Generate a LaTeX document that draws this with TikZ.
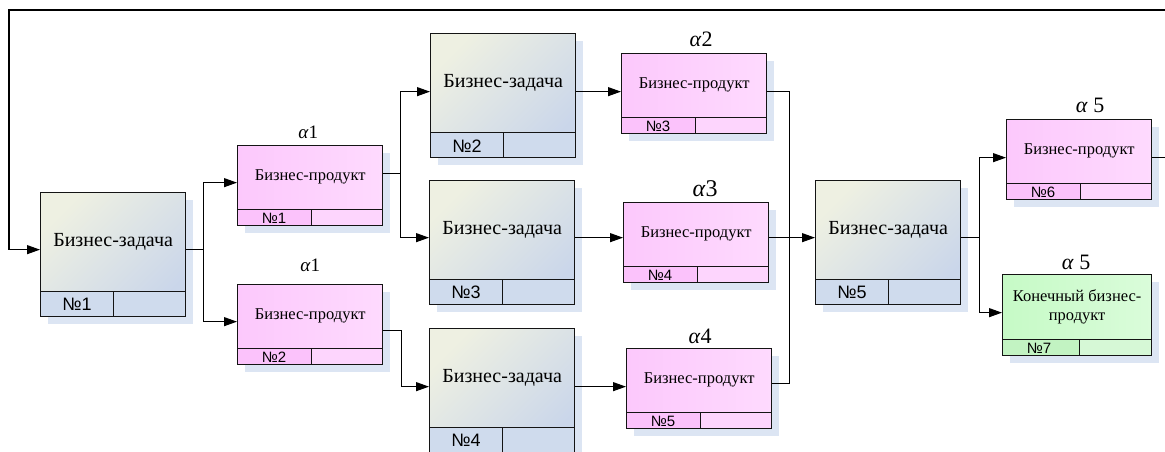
\documentclass[tikz,border=0pt]{standalone}
\usepackage{fontspec}
\setmainfont{Liberation Serif}
\setsansfont{Liberation Sans}
\newfontfamily\boxserif{Liberation Serif}
\usetikzlibrary{arrows.meta,shadows,calc}

\definecolor{edgecol}{HTML}{141414}
\definecolor{shadowblue}{HTML}{DCE5F3}
\definecolor{taskA}{HTML}{EEF0E2}
\definecolor{taskM}{HTML}{D4DDEB}
\definecolor{taskB}{HTML}{CAD6EA}
\definecolor{taskfoot}{HTML}{CFDBED}
\definecolor{pinkA}{HTML}{FCC8FC}
\definecolor{pinkB}{HTML}{FEDAFE}
\definecolor{pinkfootA}{HTML}{FBC2FB}
\definecolor{pinkfootB}{HTML}{FDD5FD}
\definecolor{greenA}{HTML}{C6FAC6}
\definecolor{greenB}{HTML}{DAFCDA}
\definecolor{greenfootA}{HTML}{C2F3C2}
\definecolor{greenfootB}{HTML}{D6F8D6}

\tikzset{
  edge/.style={draw=edgecol, line width=1.3pt},
  arr/.style={draw=black, line width=1.1pt, -{Triangle[length=13pt,width=9pt]}},
  wire/.style={draw=black, line width=1.1pt},
  bx/.style={edge, anchor=north west, inner sep=0pt, minimum width=145pt,
    drop shadow={fill=shadowblue, opacity=1, shadow xshift=7pt, shadow yshift=-7pt}},
  % footer row: #1 height, #2 left cell colour, #3 right cell colour, #4 split offset
  footer/.style n args={4}{path picture={
      \fill[#3] (path picture bounding box.south west) rectangle
                ([yshift=#1]path picture bounding box.south east);
      \fill[#2] (path picture bounding box.south west) rectangle
                ([xshift=#4,yshift=#1]path picture bounding box.south west);
      \draw[edge] ([yshift=#1]path picture bounding box.south west) --
                  ([yshift=#1]path picture bounding box.south east);
      \draw[edge] ([xshift=#4]path picture bounding box.south west) --
                  ([xshift=#4,yshift=#1]path picture bounding box.south west);
    }},
  task/.style={bx, minimum height=124pt, top color=taskA, middle color=taskM,
    bottom color=taskB, shading angle=45, footer={25pt}{taskfoot}{taskfoot}{73pt}},
  prod/.style={bx, minimum height=80pt, left color=pinkA, right color=pinkB,
    footer={16pt}{pinkfootA}{pinkfootB}{74pt}},
  final/.style={bx, minimum width=149pt, minimum height=81pt, left color=greenA,
    right color=greenB, footer={16pt}{greenfootA}{greenfootB}{77pt}},
  ttxt/.style={inner sep=0pt, font=\boxserif\fontsize{20}{24}\selectfont},
  ptxt/.style={inner sep=0pt, align=center, font=\boxserif\fontsize{16.5}{19.5}\selectfont},
  tnum/.style={inner sep=0pt, font=\sffamily\fontsize{18}{21}\selectfont},
  pnum/.style={inner sep=0pt, font=\sffamily\fontsize{15}{18}\selectfont},
  alpha/.style={inner sep=0pt, anchor=base, font=\boxserif\fontsize{22}{26}\selectfont},
}

\begin{document}
\begin{tikzpicture}[x=1pt, y=-1pt]
\useasboundingbox (0,0) rectangle (1165,452);
\clip (0,0) rectangle (1165,452);

% business tasks
\node[task] (t1) at (40,192) {};
\node[task] (t2) at (430,33) {};
\node[task] (t3) at (429,180) {};
\node[task] (t4) at (429,328) {};
\node[task] (t5) at (815,180) {};

% business products
\node[prod] (p1) at (237,145) {};
\node[prod] (p2) at (237,284) {};
\node[prod] (p3) at (621,53) {};
\node[prod] (p4) at (623,202) {};
\node[prod] (p5) at (626,348) {};
\node[prod] (p6) at (1006,119) {};
\node[final] (p7) at (1002,274) {};

% captions of the tasks
\foreach \t/\n in {t1/1,t2/2,t3/3,t4/4,t5/5}{
  \node[ttxt] (\t txt) at ([yshift=-49.5pt]\t.north) {Бизнес-задача};
  \node[tnum] (\t num) at ([xshift=37pt,yshift=12.5pt]\t.south west) {№\n};
}

% captions of the products
\foreach \p/\n in {p1/1,p2/2,p3/3,p4/4,p5/5,p6/6}{
  \node[ptxt] (\p txt) at ([yshift=-32pt]\p.north) {Бизнес-продукт};
  \node[pnum] (\p num) at ([xshift=37pt,yshift=8pt]\p.south west) {№\n};
}
\node[ptxt] (p7txt) at ([yshift=-33pt]p7.north) {Конечный бизнес-\\продукт};
\node[pnum] (p7num) at ([xshift=37pt,yshift=8pt]p7.south west) {№7};

% coefficients above the products
\node[alpha, font=\boxserif\fontsize{19}{22}\selectfont] (a1) at ([xshift=-2pt,yshift=7pt]p1.north) {\textit{α}1};
\node[alpha, font=\boxserif\fontsize{19}{22}\selectfont] (a1b) at ([xshift=0pt,yshift=13pt]p2.north) {\textit{α}1};
\node[alpha] (a2) at ([xshift=7pt,yshift=6pt]p3.north) {\textit{α}2};
\node[alpha, font=\boxserif\fontsize{24}{28}\selectfont] (a3) at ([xshift=9pt,yshift=6pt]p4.north) {\textit{α}3};
\node[alpha] (a4) at ([xshift=1pt,yshift=5pt]p5.north) {\textit{α}4};
\node[alpha] (a5) at ([xshift=11pt,yshift=6pt]p6.north) {\textit{α} 5};
\node[alpha] (a5b) at ([xshift=-1pt,yshift=5pt]p7.north) {\textit{α} 5};

% feedback loop from the last product back to the first task
\coordinate (loopR) at (1185,10);
\coordinate (loopL) at (9,10);
\draw[arr] ([yshift=2pt]p6.east) -| (loopR) -- (loopL) |- ([yshift=5pt]t1.west);

% task 1 -> products 1 and 2
\draw[arr] ([yshift=5pt]t1.east) -- ++(17,0) coordinate (f1) |- ([yshift=3pt]p1.west);
\draw[arr] (f1) |- ([yshift=3pt]p2.west);

% product 1 -> tasks 2 and 3
\draw[arr] ([yshift=12pt]p1.east) -- ++(17,0) coordinate (f2) |- ([yshift=4pt]t2.west);
\draw[arr] (f2) |- ([yshift=5pt]t3.west);

% product 2 -> task 4
\draw[arr] ([yshift=-6pt]p2.east) -- ++(18,0) |- ([yshift=4pt]t4.west);

% tasks -> products
\draw[arr] ([yshift=4pt]t2.east) -- ([yshift=2pt]p3.west);
\draw[arr] ([yshift=5pt]t3.east) -- ([yshift=5pt]p4.west);
\draw[arr] ([yshift=4pt]t4.east) -- ([yshift=2pt]p5.west);

% products 3, 4, 5 -> task 5
\draw[wire] ([yshift=2pt]p3.east) -- ++(22,0) coordinate (f3) |- ([yshift=5pt]p5.east);
\draw[arr] ([yshift=5pt]p4.east) -- ([yshift=5pt]t5.west);

% task 5 -> products 6 and 7
\draw[arr] ([yshift=5pt]t5.east) -- ++(18,0) coordinate (f5) |- ([yshift=2pt]p6.west);
\draw[arr] (f5) |- ([yshift=2.5pt]p7.west);
\end{tikzpicture}
\end{document}
